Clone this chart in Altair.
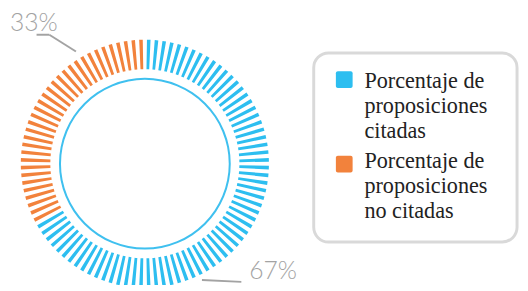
import altair as alt
import pandas as pd

# ---- data ----
categories = ["Porcentaje de\nproposiciones\ncitadas", "Porcentaje de\nproposiciones\nno citadas"]
percentages = [67, 33]
colors = ["#2DBEF0", "#F2823C"]
pct_labels = ["67%", "33%"]

# one radial tick per percentage point
rows = []
i = 0
for cat, p in zip(categories, percentages):
    for _ in range(p):
        rows.append({"cat": cat, "t0": i + 0.27, "t1": i + 0.73})
        i += 1
ticks = pd.DataFrame(rows)

W, H = 520, 277
CX, CY = 139, 156
TWO_PI = 6.283185307

color_scale = alt.Scale(domain=categories, range=colors)

ring = alt.Chart(ticks).mark_arc().encode(
    theta=alt.Theta("t0:Q", scale=alt.Scale(domain=[0, 100], range=[0, TWO_PI]), stack=False),
    theta2="t1:Q",
    radius=alt.value(126),
    radius2=alt.value(96),
    x=alt.value(CX),
    y=alt.value(CY),
    color=alt.Color("cat:N", scale=color_scale, legend=None),
)

inner = alt.Chart(alt.Data(values=[{}])).mark_arc(color="#3FC0EF").encode(
    theta=alt.value(0),
    theta2=alt.value(TWO_PI),
    radius=alt.value(87.2),
    radius2=alt.value(85.2),
    x=alt.value(CX),
    y=alt.value(CY),
)

# percentage labels
lab_df = pd.DataFrame({"label": pct_labels, "px": [245, 2], "py": [273, 21]})
labels = alt.Chart(lab_df).mark_text(
    font="Lato", fontWeight=300, fontSize=25, color="#A3A3A3", align="left", baseline="alphabetic"
).encode(
    x=alt.X("px:Q", scale=None), y=alt.Y("py:Q", scale=None), text="label:N"
)

# leader lines
lead_df = pd.DataFrame({
    "x1": [29, 42, 197],
    "y1": [25, 25, 274],
    "x2": [42, 69, 237],
    "y2": [25, 42, 276],
})
leaders = alt.Chart(lead_df).mark_rule(color="#A3A3A3", strokeWidth=2).encode(
    x=alt.X("x1:Q", scale=None), y=alt.Y("y1:Q", scale=None),
    x2="x2:Q", y2="y2:Q",
)

# legend box
box = alt.Chart(alt.Data(values=[{}])).mark_rect(
    fill="white", stroke="#D9D9D9", strokeWidth=3, cornerRadius=15
).encode(
    x=alt.value(310.5), x2=alt.value(517), y=alt.value(43.5), y2=alt.value(235.5)
)

leg_df = pd.DataFrame({"cat": categories, "sy": [62, 148], "ty": [79, 160]})
leg_sq = alt.Chart(leg_df).mark_rect(cornerRadius=2).encode(
    x=alt.value(333), x2=alt.value(350),
    y=alt.Y("sy:Q", scale=None),
    y2=alt.Y2("sy2:Q"),
    color=alt.Color("cat:N", scale=color_scale, legend=None),
).transform_calculate(sy2="datum.sy + 17")

leg_txt = alt.Chart(leg_df).mark_text(
    font="Liberation Serif", fontSize=22.5, color="#222222", align="left",
    baseline="alphabetic", lineBreak="\n", lineHeight=25.5
).encode(
    x=alt.value(362), y=alt.Y("ty:Q", scale=None), text="cat:N"
)

chart = alt.layer(ring, inner, leaders, labels, box, leg_sq, leg_txt).properties(
    width=W, height=H, padding=0, autosize=alt.AutoSizeParams(type="none"),
    background="white"
).configure_view(stroke="transparent", strokeWidth=0)

chart.save("out.html", embed_options={"renderer": "svg", "actions": False})
